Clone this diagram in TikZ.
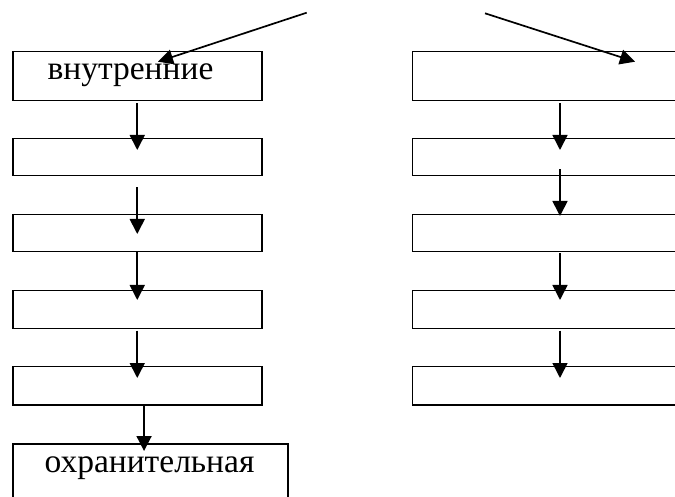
\documentclass[tikz,border=0pt]{standalone}
\usepackage{fontspec}
\setmainfont{Liberation Serif}
\usetikzlibrary{arrows.meta,calc}
\begin{document}
\begin{tikzpicture}[x=1pt,y=-1pt,
  box/.style={draw, line width=1.5pt, minimum width=249pt, anchor=north west, inner sep=0pt},
  wbox/.style={box, minimum width=297pt},
  arr/.style={-{Triangle[length=15pt,width=15pt]}, line width=1.7pt},
  lbl/.style={font=\fontsize{33.5}{38}\selectfont, anchor=base, inner sep=0pt}]
\path[use as bounding box] (0,0) rectangle (675,497);
\clip (0,0) rectangle (675,497);
% left column
\node[box, minimum height=49pt] (L1) at (12,51) {};
\node[box, minimum height=37.3pt] (L2) at (12,137.7) {};
\node[box, minimum height=37.3pt] (L3) at (12,213.7) {};
\node[box, minimum height=38pt] (L4) at (12,289.7) {};
\node[box, minimum height=38.3pt] (L5) at (12,365.7) {};
\node[box, minimum width=275pt, minimum height=70pt] (L6) at (12,443) {};
\node[lbl] (t1) at (130.5,80) {внутренние};
\node[lbl] (t6) at (149.5,472) {охранительная};
% right column
\node[wbox, minimum height=49pt] (R1) at (411.7,51) {};
\node[wbox, minimum height=37.3pt] (R2) at (411.7,137.7) {};
\node[wbox, minimum height=37.3pt] (R3) at (411.7,213.7) {};
\node[wbox, minimum height=38pt] (R4) at (411.7,289.7) {};
\node[wbox, minimum height=38.3pt] (R5) at (411.7,365.7) {};
% top arrows
\coordinate (sL) at (306.7,12.7);
\coordinate (sR) at (485,13.3);
\draw[arr] (sL) -- ($(L1.north west)+(146,10.7)$);
\draw[arr] (sR) -- ($(R1.north west)+(223.3,10.7)$);
% left arrows
\draw[arr] ($(L1.south)+(0,2)$) -- ($(L2.north)+(0,12.3)$);
\draw[arr] ($(L2.south)+(0,11)$) -- ($(L3.north)+(0,20.3)$);
\draw[arr] ($(L3.south)+(0,0)$) -- ($(L4.north)+(0,10.3)$);
\draw[arr] ($(L4.south)+(0,1.3)$) -- ($(L5.north)+(0,12.3)$);
\draw[arr] ($(L5.south)+(6.8,-1)$) -- ($(L6.north)+(-6.2,8)$);
% right arrows
\draw[arr] ($(R1.south west)+(148.3,2)$) -- ($(R2.north west)+(148.3,12.3)$);
\draw[arr] ($(R2.south west)+(148.3,-7)$) -- ($(R3.north west)+(148.3,2.3)$);
\draw[arr] ($(R3.south west)+(148.3,1)$) -- ($(R4.north west)+(148.3,10.3)$);
\draw[arr] ($(R4.south west)+(148.3,1.3)$) -- ($(R5.north west)+(148.3,12.3)$);
\end{tikzpicture}
\end{document}
